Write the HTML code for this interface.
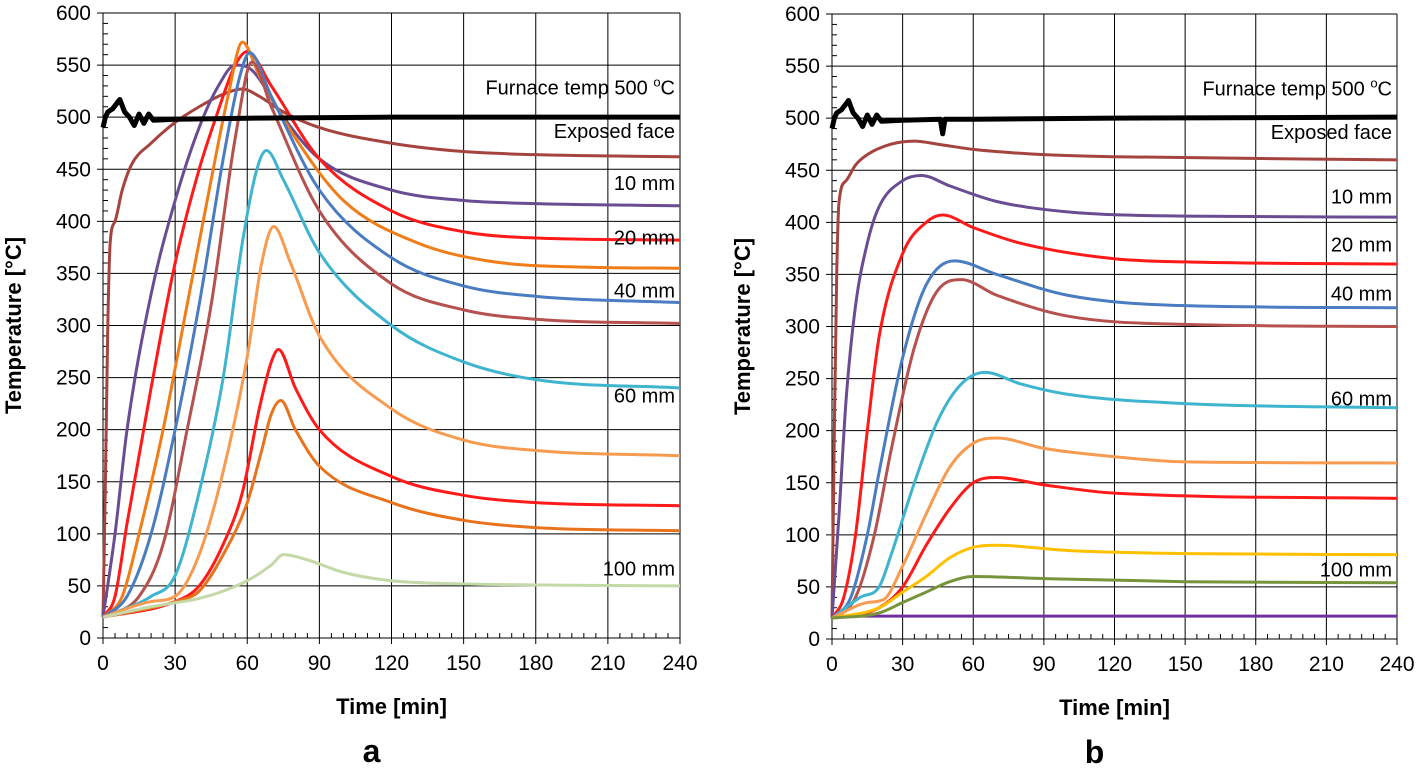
<!DOCTYPE html>
<html><head><meta charset="utf-8">
<style>
body{margin:0;background:#fff;width:1419px;height:770px;overflow:hidden;font-family:"Liberation Sans",Arial,sans-serif}
svg{position:absolute;left:0;top:0}
</style></head>
<body>
<svg id="c" width="1419" height="770"></svg>
<script>
const xTicks=[0,30,60,90,120,150,180,210,240];
const yTicks=[0,50,100,150,200,250,300,350,400,450,500,550,600];
// Chart a series: [time, temp] pairs
const aFurnace=[[0,490],[1,500],[2,505],[4,508],[7,517],[9,505],[11,500],[13,492],[15,503],[17,494],[19,503],[21,497],[30,498],[60,499],[120,500],[240,500]];
const aExposed=[[0,20],[1,150],[2,300],[3,380],[5,400],[8,430],[12,455],[20,475],[30,495],[40,510],[50,522],[58,527],[65,520],[75,505],[90,490],[120,475],[150,467],[180,464],[240,462]];
const a10=[[0,20],[5,100],[10,200],[20,330],[30,420],[40,490],[48,530],[55,550],[62,545],[75,500],[90,460],[120,430],[150,420],[180,417],[240,415]];
const a20=[[0,20],[5,40],[10,110],[20,240],[30,360],[40,450],[47,500],[55,550],[60,563],[70,530],[90,460],[120,410],[150,390],[180,384],[240,382]];
const a30=[[0,20],[8,40],[15,100],[25,200],[35,320],[45,440],[52,520],[58,572],[65,540],[80,480],[100,420],[130,380],[160,362],[200,356],[240,355]];
const a40=[[0,20],[10,40],[20,100],[30,200],[40,320],[50,460],[57,540],[61,562],[70,520],[90,430],[120,365],[150,338],[180,328],[240,322]];
const a50=[[0,20],[15,40],[25,90],[35,200],[45,320],[55,480],[62,553],[70,510],[90,410],[120,340],[150,315],[180,306],[240,302]];
const a60=[[0,20],[20,40],[30,60],[40,140],[50,250],[58,380],[64,450],[68,468],[75,440],[90,370],[120,300],[150,265],[180,248],[240,240]];
const a70=[[0,20],[20,35],[30,40],[40,80],[50,160],[60,270],[66,360],[71,395],[78,360],[90,290],[120,220],[150,190],[180,180],[240,175]];
const a80=[[0,20],[30,35],[40,50],[50,90],[58,140],[65,220],[70,265],[73,277],[80,240],[90,200],[120,155],[150,137],[180,130],[240,127]];
const a90=[[0,20],[30,35],[40,45],[50,80],[60,130],[66,180],[70,215],[74,228],[80,200],[90,165],[120,130],[150,113],[180,106],[240,103]];
const a100=[[0,20],[20,30],[40,38],[50,45],[60,55],[70,70],[75,80],[85,75],[100,63],[120,55],[150,52],[240,50]];
// Chart b series
const bFurnace=[[0,490],[1,500],[2,505],[4,508],[7,517],[9,505],[11,500],[13,492],[15,503],[17,494],[19,503],[21,497],[30,498],[46,499],[47,485],[48,499],[60,499],[120,500],[240,501]];
const bExposed=[[0,20],[1,200],[2,350],[3,420],[6,440],[10,455],[15,465],[25,475],[35,478],[45,475],[60,470],[90,465],[120,463],[240,460]];
const b10=[[0,20],[3,120],[6,230],[10,320],[15,380],[20,415],[30,440],[38,445],[50,435],[70,420],[100,410],[150,406],[240,405]];
const b20=[[0,20],[5,40],[10,100],[15,200],[20,290],[30,370],[40,400],[47,407],[60,395],[80,380],[120,365],[150,362],[240,360]];
const b30=[[0,20],[8,40],[15,100],[20,160],[30,270],[40,340],[52,363],[70,350],[100,330],[150,320],[240,318]];
const b40=[[0,20],[10,40],[18,100],[25,180],[35,280],[45,335],[55,345],[70,330],[100,310],[150,302],[240,300]];
const b50=[[0,20],[12,40],[20,50],[25,80],[35,150],[45,210],[55,245],[65,256],[80,245],[100,235],[150,226],[240,222]];
const b60=[[0,20],[15,35],[22,38],[30,70],[40,120],[50,165],[60,188],[70,193],[90,183],[120,175],[150,170],[240,169]];
const b70=[[0,20],[20,30],[30,50],[40,90],[50,125],[60,150],[70,155],[90,148],[120,140],[240,135]];
const b80=[[0,20],[20,30],[30,45],[40,60],[50,78],[60,88],[70,90],[100,85],[150,82],[240,81]];
const b90=[[0,20],[20,25],[30,35],[40,45],[50,55],[60,60],[90,58],[150,55],[240,54]];
const b100=[[0,22],[240,22]];

const NS="http://www.w3.org/2000/svg";
const svg=document.getElementById('c');
function el(tag,attrs,parent){const e=document.createElementNS(NS,tag);for(const k in attrs)e.setAttribute(k,attrs[k]);(parent||svg).appendChild(e);return e;}

// monotone cubic path
function monoPath(P){
  const n=P.length;if(n<3)return 'M'+P.map(p=>p.join(',')).join('L');
  const d=[],m=[];
  for(let i=0;i<n-1;i++)d.push((P[i+1][1]-P[i][1])/(P[i+1][0]-P[i][0]));
  m[0]=d[0];m[n-1]=d[n-2];
  for(let i=1;i<n-1;i++){m[i]=(d[i-1]*d[i]<=0)?0:(d[i-1]+d[i])/2;}
  for(let i=0;i<n-1;i++){if(d[i]===0){m[i]=0;m[i+1]=0;continue;}
    const a=m[i]/d[i],b=m[i+1]/d[i],s=a*a+b*b;if(s>9){const t=3/Math.sqrt(s);m[i]=t*a*d[i];m[i+1]=t*b*d[i];}}
  let s='M'+P[0][0]+','+P[0][1];
  for(let i=0;i<n-1;i++){const h=(P[i+1][0]-P[i][0])/3;
    s+=` C${P[i][0]+h},${P[i][1]+m[i]*h} ${P[i+1][0]-h},${P[i+1][1]-m[i+1]*h} ${P[i+1][0]},${P[i+1][1]}`;}
  return s;
}

function chart(id,x0,x1,y0,y1,series,labels){
  const g=el('g',{});
  
  
  const X=t=>x0+(x1-x0)*t/240, Y=v=>y0-(y0-y1)*v/600;
  xTicks.forEach(t=>{
    const l=el('line',{x1:X(t),x2:X(t),y1:Y(0),y2:Y(600),stroke:'#000','stroke-width':1},g);
    
    
    el('line',{x1:X(t),x2:X(t),y1:Y(0),y2:Y(0)+6,stroke:'#000'},g);
    const tx=el('text',{x:X(t),y:Y(0)+32,'text-anchor':'middle','font-size':21,fill:'#000'},g);
    tx.textContent=t;
    
    
  });
  for(let t=5;t<240;t+=5){if(t%30)el('line',{x1:X(t),x2:X(t),y1:Y(0),y2:Y(0)-5,stroke:'#000'},g);}
  yTicks.forEach(v=>{
    const l=el('line',{x1:X(0)-6,x2:X(240),y1:Y(v),y2:Y(v),stroke:'#000','stroke-width':1},g);
    
    
    const tx=el('text',{x:X(0)-12,y:Y(v)+7,'text-anchor':'end','font-size':21,fill:'#000'},g);
    tx.textContent=v;
    
    
  });
  for(let v=10;v<600;v+=10){if(v%50)el('line',{x1:X(0),x2:X(0)+5,y1:Y(v),y2:Y(v),stroke:'#000'},g);}
  series.forEach(s=>{
    const pts=s.d.map(q=>[X(q[0]),Y(q[1])]);
    const p=el('path',{d:s.lin?'M'+pts.map(q=>q.join(',')).join('L'):monoPath(pts),fill:'none',stroke:s.c,'stroke-width':s.w||3,'stroke-linejoin':'round'},g);
    
    
  });
  labels.forEach(lb=>{
    const tx=el('text',{x:X(240)-5,y:Y(lb[1]),'text-anchor':'end','font-size':20,fill:'#000'},g);
    tx.textContent=lb[0];
    if(lb[2]){const s=el('tspan',{dy:-8,'font-size':13},tx);s.textContent='o';const s2=el('tspan',{dy:8},tx);s2.textContent='C';}
    
    
  });
  const yt=el('text',{transform:`translate(${x0-82},${(y0+y1)/2}) rotate(-90)`,'text-anchor':'middle','font-size':22,'font-weight':'bold'},g);
  yt.textContent='Temperature [°C]';
  
  
  const xt=el('text',{x:(x0+x1)/2,y:y0+76,'text-anchor':'middle','font-size':22,'font-weight':'bold'},g);
  xt.textContent='Time [min]';
  
  
  const pl=el('text',{x:(x0+x1)/2-20,y:y0+124,'text-anchor':'middle','font-size':32,'font-weight':'bold'},g);
  pl.textContent=id;
  
  
}

chart('a',103,680,638,13,[
 {d:aExposed,c:'#a5443f',n:'exposed-face-line'},
 {d:a10,c:'#6a4c93',n:'line-10mm'},
 {d:a20,c:'#ff1a1a',n:'line-20mm'},
 {d:a30,c:'#f07d18',n:'line-30mm'},
 {d:a40,c:'#4a7cc2',n:'line-40mm'},
 {d:a50,c:'#b5514e',n:'line-50mm'},
 {d:a60,c:'#3fb4cf',n:'line-60mm'},
 {d:a70,c:'#f79b50',n:'line-70mm'},
 {d:a80,c:'#ff1a1a',n:'line-80mm'},
 {d:a90,c:'#e8731c',n:'line-90mm'},
 {d:a100,c:'#c4d8a8',n:'line-100mm'},
 {d:aFurnace,c:'#000',w:5,n:'furnace-line',lin:true}
],[['Furnace temp 500 ',522,true],['Exposed face',480],['10 mm',430],['20 mm',378],['40 mm',327],['60 mm',226],['100 mm',60]]);

chart('b',832,1397,639,14,[
 {d:b100,c:'#7030a0',n:'line-ambient'},
 {d:bExposed,c:'#a5443f',n:'exposed-face-line'},
 {d:b10,c:'#6a4c93',n:'line-10mm'},
 {d:b20,c:'#ff1a1a',n:'line-20mm'},
 {d:b30,c:'#4a7cc2',n:'line-30mm'},
 {d:b40,c:'#b5514e',n:'line-40mm'},
 {d:b50,c:'#3fb4cf',n:'line-50mm'},
 {d:b60,c:'#f79b50',n:'line-60mm'},
 {d:b70,c:'#ff1a1a',n:'line-70mm'},
 {d:b80,c:'#ffc000',n:'line-80mm'},
 {d:b90,c:'#77933c',n:'line-100mm'},
 {d:bFurnace,c:'#000',w:5,n:'furnace-line',lin:true}
],[['Furnace temp 500 ',522,true],['Exposed face',480],['10 mm',418],['20 mm',372],['40 mm',325],['60 mm',224],['100 mm',60]]);
</script>
</body></html>
